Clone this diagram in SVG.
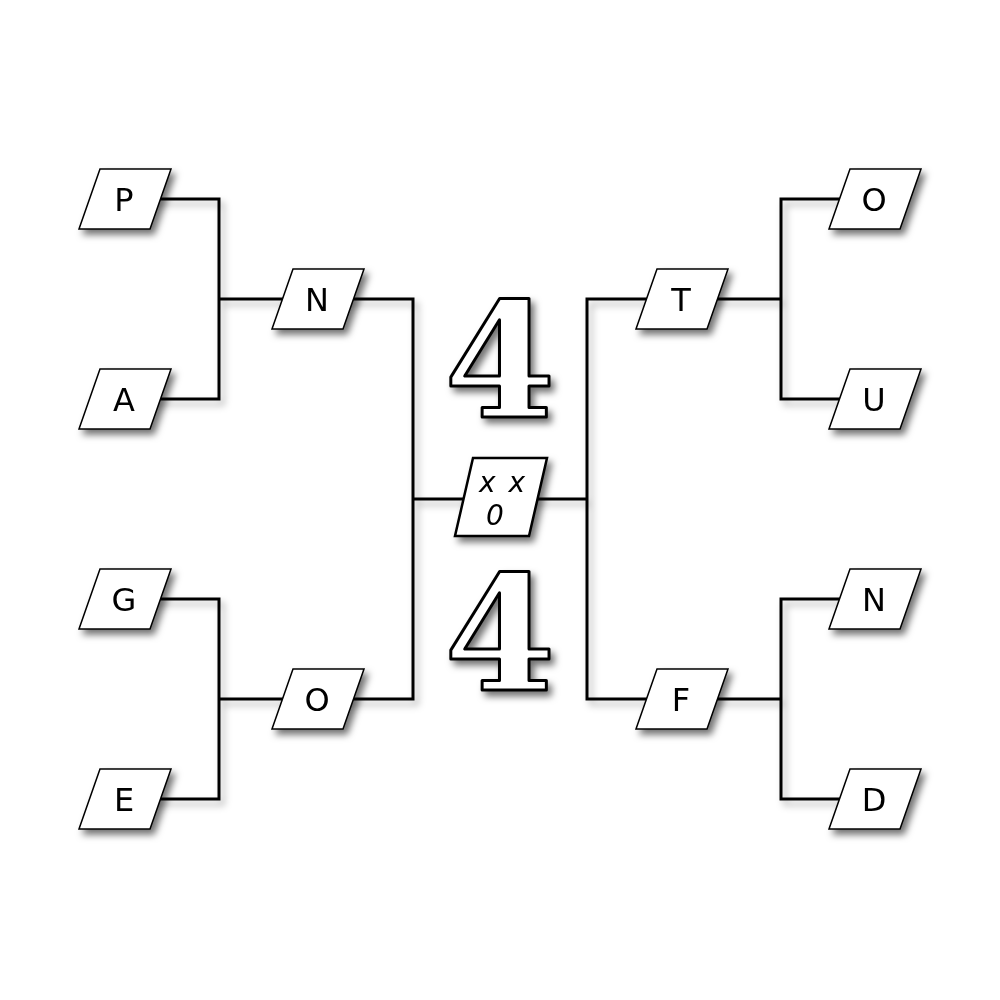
<svg xmlns="http://www.w3.org/2000/svg" width="1000" height="1000" viewBox="0 0 1000 1000">
  <defs>
    <filter id="sh" x="-30%" y="-30%" width="170%" height="170%">
      <feDropShadow dx="4" dy="5" stdDeviation="3.5" flood-color="#000" flood-opacity="0.55"/>
    </filter>
    <filter id="lsh" x="-10%" y="-10%" width="130%" height="130%">
      <feDropShadow dx="4" dy="5" stdDeviation="3.5" flood-color="#000" flood-opacity="0.3"/>
    </filter>
    <polygon id="leaf" points="-25,-30 46,-30 25,30 -46,30"/>
  </defs>
  <style>
    .conn { fill: none; stroke: #000; stroke-width: 3; stroke-linejoin: miter; }
    .node use { fill: #fff; stroke: #000; stroke-width: 1.5; }
    .lbl { font-family: "DejaVu Sans", "Liberation Sans", sans-serif; font-size: 32px; fill: #000; text-anchor: middle; }
    .big { font-family: "DejaVu Serif", "Liberation Serif", serif; font-weight: bold; font-size: 160px; fill: #fff; stroke: #000; stroke-width: 3; stroke-linejoin: round; text-anchor: middle; }
    .fin { font-family: "DejaVu Sans", "Liberation Sans", sans-serif; font-style: italic; font-weight: 200; font-size: 28px; fill: #000; text-anchor: middle; }
  </style>
  <rect width="1000" height="1000" fill="#fff"/>

  <g id="connectors" filter="url(#lsh)">
    <path class="conn" d="M125,199 H219 V399 H125"/>
    <path class="conn" d="M219,299 H318"/>
    <path class="conn" d="M125,599 H219 V799 H125"/>
    <path class="conn" d="M219,699 H318"/>
    <path class="conn" d="M318,299 H413 V699 H318"/>
    <path class="conn" d="M413,499 H587"/>
    <path class="conn" d="M682,299 H587 V699 H682"/>
    <path class="conn" d="M875,199 H781 V399 H875"/>
    <path class="conn" d="M682,299 H781"/>
    <path class="conn" d="M875,599 H781 V799 H875"/>
    <path class="conn" d="M682,699 H781"/>
  </g>

  <g id="node-P" class="node" filter="url(#sh)"><use href="#leaf" x="125" y="199"/><text class="lbl" x="124" y="211">P</text></g>
  <g id="node-A" class="node" filter="url(#sh)"><use href="#leaf" x="125" y="399"/><text class="lbl" x="124" y="411">A</text></g>
  <g id="node-G" class="node" filter="url(#sh)"><use href="#leaf" x="125" y="599"/><text class="lbl" x="124" y="611">G</text></g>
  <g id="node-E" class="node" filter="url(#sh)"><use href="#leaf" x="125" y="799"/><text class="lbl" x="124" y="811">E</text></g>
  <g id="node-N1" class="node" filter="url(#sh)"><use href="#leaf" x="318" y="299"/><text class="lbl" x="317" y="311">N</text></g>
  <g id="node-O1" class="node" filter="url(#sh)"><use href="#leaf" x="318" y="699"/><text class="lbl" x="317" y="711">O</text></g>
  <g id="node-T" class="node" filter="url(#sh)"><use href="#leaf" x="682" y="299"/><text class="lbl" x="681" y="311">T</text></g>
  <g id="node-F" class="node" filter="url(#sh)"><use href="#leaf" x="682" y="699"/><text class="lbl" x="681" y="711">F</text></g>
  <g id="node-O2" class="node" filter="url(#sh)"><use href="#leaf" x="875" y="199"/><text class="lbl" x="874" y="211">O</text></g>
  <g id="node-U" class="node" filter="url(#sh)"><use href="#leaf" x="875" y="399"/><text class="lbl" x="874" y="411">U</text></g>
  <g id="node-N2" class="node" filter="url(#sh)"><use href="#leaf" x="875" y="599"/><text class="lbl" x="874" y="611">N</text></g>
  <g id="node-D" class="node" filter="url(#sh)"><use href="#leaf" x="875" y="799"/><text class="lbl" x="874" y="811">D</text></g>

  <g id="node-final" filter="url(#sh)">
    <polygon points="473,458 547,458 529,536 455,536" fill="#fff" stroke="#000" stroke-width="2.5"/>
    <text class="fin" x="503" y="492" letter-spacing="2">x x</text>
    <text class="fin" x="495" y="525">0</text>
  </g>

  <g id="score-top" filter="url(#sh)">
    <text class="big" x="500" y="417">4</text>
  </g>
  <g id="score-bottom" filter="url(#sh)">
    <text class="big" x="500" y="690">4</text>
  </g>
</svg>
